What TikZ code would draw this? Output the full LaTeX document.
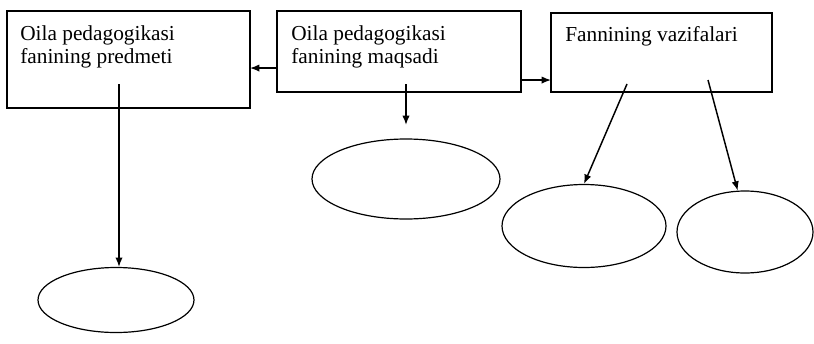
\documentclass[tikz,border=0pt]{standalone}
\usepackage{fontspec}
\setmainfont{Liberation Serif}
\usetikzlibrary{shapes.geometric}
\usetikzlibrary{arrows.meta}
\tikzset{
box/.style={ % frame, text sits in the top left corner
draw, line width=1pt, inner sep=0pt, outer sep=0pt, anchor=north west},
boxtext/.style={anchor=north west, align=left, inner xsep=10.5pt, inner ysep=11pt},
oval/.style={draw, ellipse, line width=0.9pt, inner sep=0pt},
arr/.style={line width=1.1pt, -{Latex[length=7pt,width=5.5pt]}}}

\begin{document}
\begin{tikzpicture}[x=0.75pt, y=-0.75pt, font=\fontsize{16}{17.25}\selectfont]
\useasboundingbox (0,0) rectangle (814,343);
\node[box, minimum width=182.25pt, minimum height=72.75pt,
  label={[boxtext, inner xsep=9.75pt]north west:{Oila pedagogikasi\\fanining predmeti}}] (b1) at (7,11) {};
\node[box, minimum width=183pt, minimum height=60.75pt,
  label={[boxtext]north west:{Oila pedagogikasi\\fanining maqsadi}}] (b2) at (277,11) {};
\node[box, minimum width=165.75pt, minimum height=59.25pt,
  label={[boxtext, inner ysep=10pt]north west:{Fannining vazifalari}}] (b3) at (551,13) {};
\node[oval, minimum width=117pt, minimum height=48.75pt] (e1) at (116,300) {};
\node[oval, minimum width=141pt, minimum height=60pt] (e2) at (406,179) {};
\node[oval, minimum width=123pt, minimum height=62.25pt] (e3) at (584,226) {};
\node[oval, minimum width=102pt, minimum height=61.5pt] (e4) at (745,232) {};
% free ends of the arrows
\coordinate (m1) at ([yshift=-12.4pt]b2.west);
\coordinate (m2) at ([yshift=-21.4pt]b2.east);
\coordinate (s1) at (119,84);
\coordinate (s2) at (406,84);
\coordinate (t2) at (406,125);
\coordinate (s3) at (627,84);
\coordinate (s4) at (708,80);
\draw[arr] (m1) -- (m1 -| b1.east);
\draw[arr] (m2) -- (m2 -| b3.west);
\draw[arr] (s1) -- (s1 |- e1.north);
\draw[arr] (s2) -- (t2);
\draw[arr] (s3) -- (e3.north);
\draw[arr] (s4) -- (e4.100);
\end{tikzpicture}
\end{document}
